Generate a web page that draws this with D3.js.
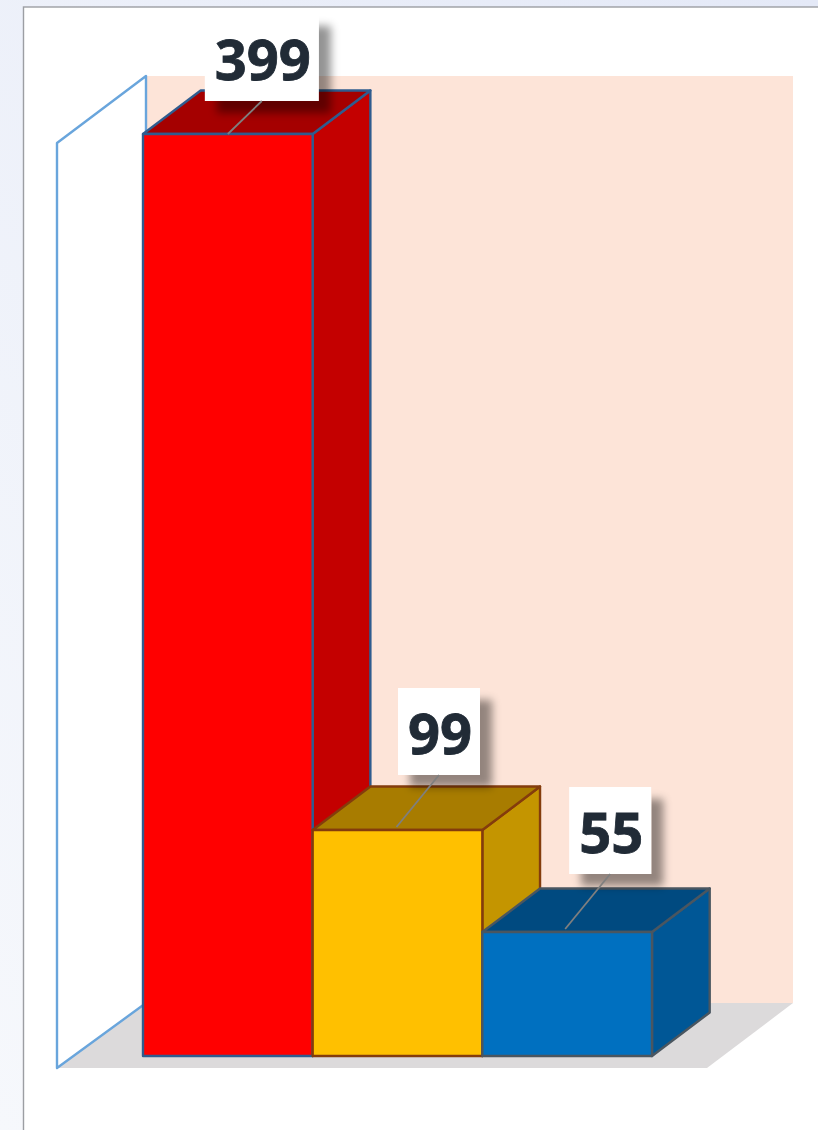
<!DOCTYPE html>
<html lang="en">
<head>
<meta charset="UTF-8">
<title>3D column chart</title>
<script src="https://d3js.org/d3.v7.min.js"></script>
<style>
  html, body { margin: 0; padding: 0; background: #fff; overflow: hidden; }
  svg { display: block; }
</style>
</head>
<body>
<svg width="818" height="1130"></svg>
<script>
    // chart data
    const barKeys = ["red", "yellow", "blue"];
    const barValues = [399, 99, 55];
    const frontColors = ["#ff0000", "#ffc000", "#0070c0"];
    const sideColors = ["#c40000", "#c49500", "#005796"];
    const topColors = ["#a50000", "#a87c00", "#004a80"];
    const strokeColors = ["#2f5c8f", "#843c0c", "#4a5660"];

    const svg = d3.select("svg");

    // the picture's bars are not quite proportional, so the scale goes through each measured top
    const y = d3.scaleLinear().domain([0, 55, 99, 399]).range([1056, 932, 830, 134]);
    const x = d3.scaleBand().domain(barKeys).range([143, 652]);

    // box depth of the bars and of the chart walls
    const depthX = 57.7, depthY = -43.5;
    const wall = { left: 146, right: 793, top: 76, bottom: 1003, dx: -89, dy: 65 };

    const defs = svg.append("defs");
    const bg = defs.append("linearGradient").attr("id", "pageBg").attr("x1", 0).attr("x2", 1).attr("y1", 1).attr("y2", 0);
    bg.append("stop").attr("offset", "0%").attr("stop-color", "#f6f8fc");
    bg.append("stop").attr("offset", "100%").attr("stop-color", "#e4e9f7");
    defs.append("filter").attr("id", "labelShadow")
        .attr("x", "-20%").attr("y", "-20%").attr("width", "150%").attr("height", "150%")
        .append("feDropShadow")
        .attr("dx", 12).attr("dy", 12).attr("stdDeviation", 4.5)
        .attr("flood-color", "#000").attr("flood-opacity", 0.42);

    // page background and card
    svg.append("rect").attr("width", 818).attr("height", 1130).attr("fill", "url(#pageBg)");
    svg.append("rect").attr("x", 23.5).attr("y", 7).attr("width", 820).attr("height", 1140)
        .attr("fill", "#fff").attr("stroke", "#9c9ea3").attr("stroke-width", 1.4);

    const poly = pts => pts.map(p => p.join(",")).join(" ");

    // back wall, floor, side wall
    svg.append("rect")
        .attr("x", wall.left).attr("y", wall.top)
        .attr("width", wall.right - wall.left).attr("height", wall.bottom - wall.top)
        .attr("fill", "#fde4d8");
    svg.append("polygon")
        .attr("points", poly([
            [wall.left, wall.bottom], [wall.right, wall.bottom],
            [wall.right + wall.dx + 3, wall.bottom + wall.dy], [wall.left + wall.dx, wall.bottom + wall.dy]
        ]))
        .attr("fill", "#dcdadb");
    svg.append("polygon")
        .attr("points", poly([
            [wall.left, wall.top], [wall.left, wall.bottom],
            [wall.left + wall.dx, wall.bottom + wall.dy], [wall.left + wall.dx, wall.top + 67]
        ]))
        .attr("fill", "#fff").attr("stroke", "#69a5dc").attr("stroke-width", 2.4).attr("stroke-linejoin", "round");

    // bars
    const bars = svg.selectAll("g.bar").data(barKeys).join("g").attr("class", "bar");
    bars.each(function (key, i) {
        const g = d3.select(this);
        const x0 = x(key), x1 = x0 + x.bandwidth();
        const y0 = y(0), y1 = y(barValues[i]);
        const face = (pts, fill) => g.append("polygon")
            .attr("points", poly(pts))
            .attr("fill", fill)
            .attr("stroke", strokeColors[i])
            .attr("stroke-width", 2.4)
            .attr("stroke-linejoin", "round");
        face([[x1, y1], [x1 + depthX, y1 + depthY], [x1 + depthX, y0 + depthY], [x1, y0]], sideColors[i]);
        face([[x0, y1], [x0 + depthX, y1 + depthY], [x1 + depthX, y1 + depthY], [x1, y1]], topColors[i]);
        face([[x0, y1], [x1, y1], [x1, y0], [x0, y0]], frontColors[i]);
    });

    // value labels, placed relative to each bar top
    const labelWidth = [114, 82, 82];
    const labelHeight = 87;
    const labelDx = [34, 41.5, 43];
    const labelDy = [-33, -55, -58];
    const lineDx = [0, -1, -2];
    const lineDrop = [0, -3, -3];

    const labels = svg.selectAll("g.label").data(barKeys).join("g").attr("class", "label");
    labels.each(function (key, i) {
        const g = d3.select(this);
        const cx = x(key) + x.bandwidth() / 2;
        const top = y(barValues[i]);
        const boxX = cx + labelDx[i];
        const boxBottom = top + labelDy[i];
        g.append("rect")
            .attr("x", boxX - labelWidth[i] / 2).attr("y", boxBottom - labelHeight)
            .attr("width", labelWidth[i]).attr("height", labelHeight)
            .attr("fill", "#fff")
            .attr("filter", "url(#labelShadow)");
        g.append("line")
            .attr("x1", cx + lineDx[i]).attr("y1", top + lineDrop[i])
            .attr("x2", boxX).attr("y2", boxBottom)
            .attr("stroke", "#7f7f7f").attr("stroke-width", 1.8);
        g.append("text")
            .attr("x", boxX + 1).attr("y", boxBottom - 21)
            .attr("text-anchor", "middle")
            .attr("font-family", "'Open Sans', sans-serif")
            .attr("font-weight", 700)
            .attr("font-size", 56)
            .attr("fill", "#212b36")
            .attr("stroke", "#212b36")
            .attr("stroke-width", 0.8)
            .text(barValues[i]);
    });
</script>
</body>
</html>
